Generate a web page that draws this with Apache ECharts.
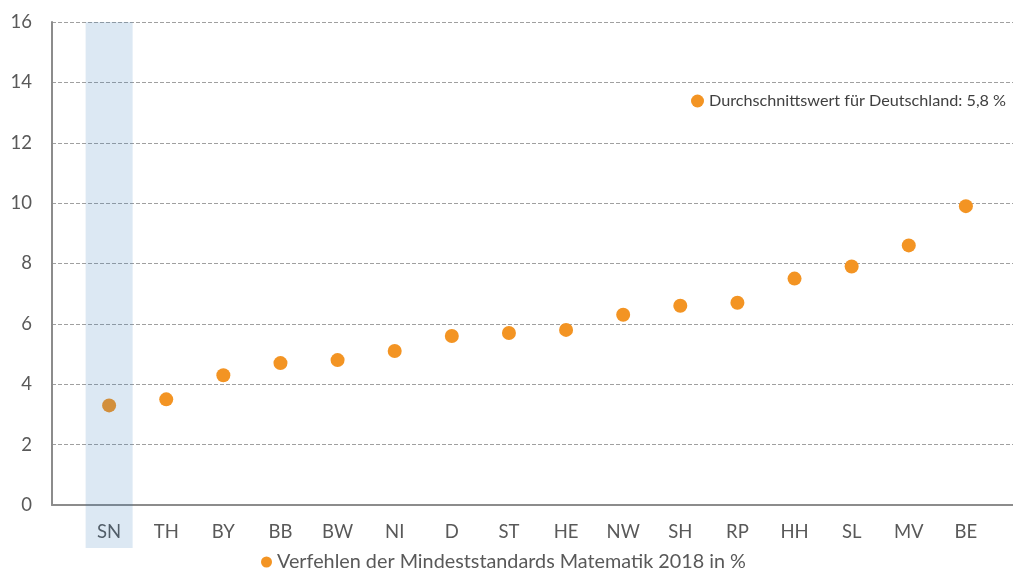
<!DOCTYPE html>
<html>
<head>
<meta charset="utf-8">
<script src="https://cdn.jsdelivr.net/npm/echarts@6/dist/echarts.min.js"></script>
<style>
  html, body { margin: 0; padding: 0; background: #fff; }
  #chart { width: 1013px; height: 574px; }
</style>
</head>
<body>
<div id="chart"></div>
<script>
const categories = ["SN", "TH", "BY", "BB", "BW", "NI", "D", "ST", "HE", "NW", "SH", "RP", "HH", "SL", "MV", "BE"];
const values = [3.3, 3.5, 4.3, 4.7, 4.8, 5.1, 5.6, 5.7, 5.8, 6.3, 6.6, 6.7, 7.5, 7.9, 8.6, 9.9];
const highlighted = ["SN"];
const yTicks = { min: 0, max: 16, step: 2 };
const seriesName = "Verfehlen der Mindeststandards Matematik 2018 in %";
const averageName = "Durchschnittswert für Deutschland: 5,8 %";

const font = "Lato, 'Open Sans', sans-serif";
const orange = "#f39423";
const textGray = "#595959";

// one empty slot on each side so the first state sits a full step from the y axis
const axisData = ["", ...categories, ""];
const points = ["-", ...values, "-"];

const chart = echarts.init(document.querySelector("#chart"));
chart.setOption({
  animation: false,
  grid: { left: 52, top: 22, width: 971, bottom: 69, outerBoundsMode: "none", containLabel: false },
  legend: [
    {
      data: [seriesName],
      bottom: 2,
      left: 261,
      padding: 0,
      icon: "circle",
      itemWidth: 11,
      itemHeight: 11,
      itemGap: 4,
      textStyle: { fontFamily: font, fontSize: 19.8, color: textGray },
    },
    {
      data: [averageName],
      top: 93,
      left: 691,
      padding: 0,
      icon: "circle",
      itemWidth: 13,
      itemHeight: 13,
      itemGap: 2,
      textStyle: { fontFamily: font, fontSize: 16.2, color: "#404040" },
    },
  ],
  xAxis: {
    type: "category",
    data: axisData,
    boundaryGap: false,
    axisLine: { lineStyle: { color: "#8c8c8c", width: 2 } },
    axisTick: { show: false },
    axisLabel: { interval: 0, margin: 18, fontFamily: font, fontSize: 18.5, color: textGray },
  },
  yAxis: {
    type: "value",
    min: yTicks.min,
    max: yTicks.max,
    interval: yTicks.step,
    axisLine: { show: true, lineStyle: { color: "#8c8c8c", width: 2 } },
    axisTick: { show: false },
    axisLabel: { margin: 20, fontFamily: font, fontSize: 18.5, color: textGray },
    splitLine: { lineStyle: { color: "#a0a0a0", type: [4, 2], width: 1 } },
  },
  series: [
    {
      name: seriesName,
      type: "scatter",
      data: points,
      symbolSize: 14,
      itemStyle: { color: orange, opacity: 1 },
      z: 2,
    },
    {
      name: averageName,
      type: "scatter",
      data: [],
      itemStyle: { color: orange, opacity: 1 },
    },
    {
      type: "custom",
      silent: true,
      clip: false,
      z: 5,
      data: highlighted.map((c) => [c, yTicks.max]),
      renderItem: (params, api) => {
        const top = api.coord([api.value(0), api.value(1)]);
        const base = api.coord([api.value(0), yTicks.min]);
        const w = 47;
        return {
          type: "rect",
          shape: { x: top[0] - w / 2, y: top[1], width: w, height: base[1] - top[1] + 43 },
          style: { fill: "rgba(46,117,182,0.17)" },
        };
      },
    },
  ],
});
</script>
</body>
</html>
